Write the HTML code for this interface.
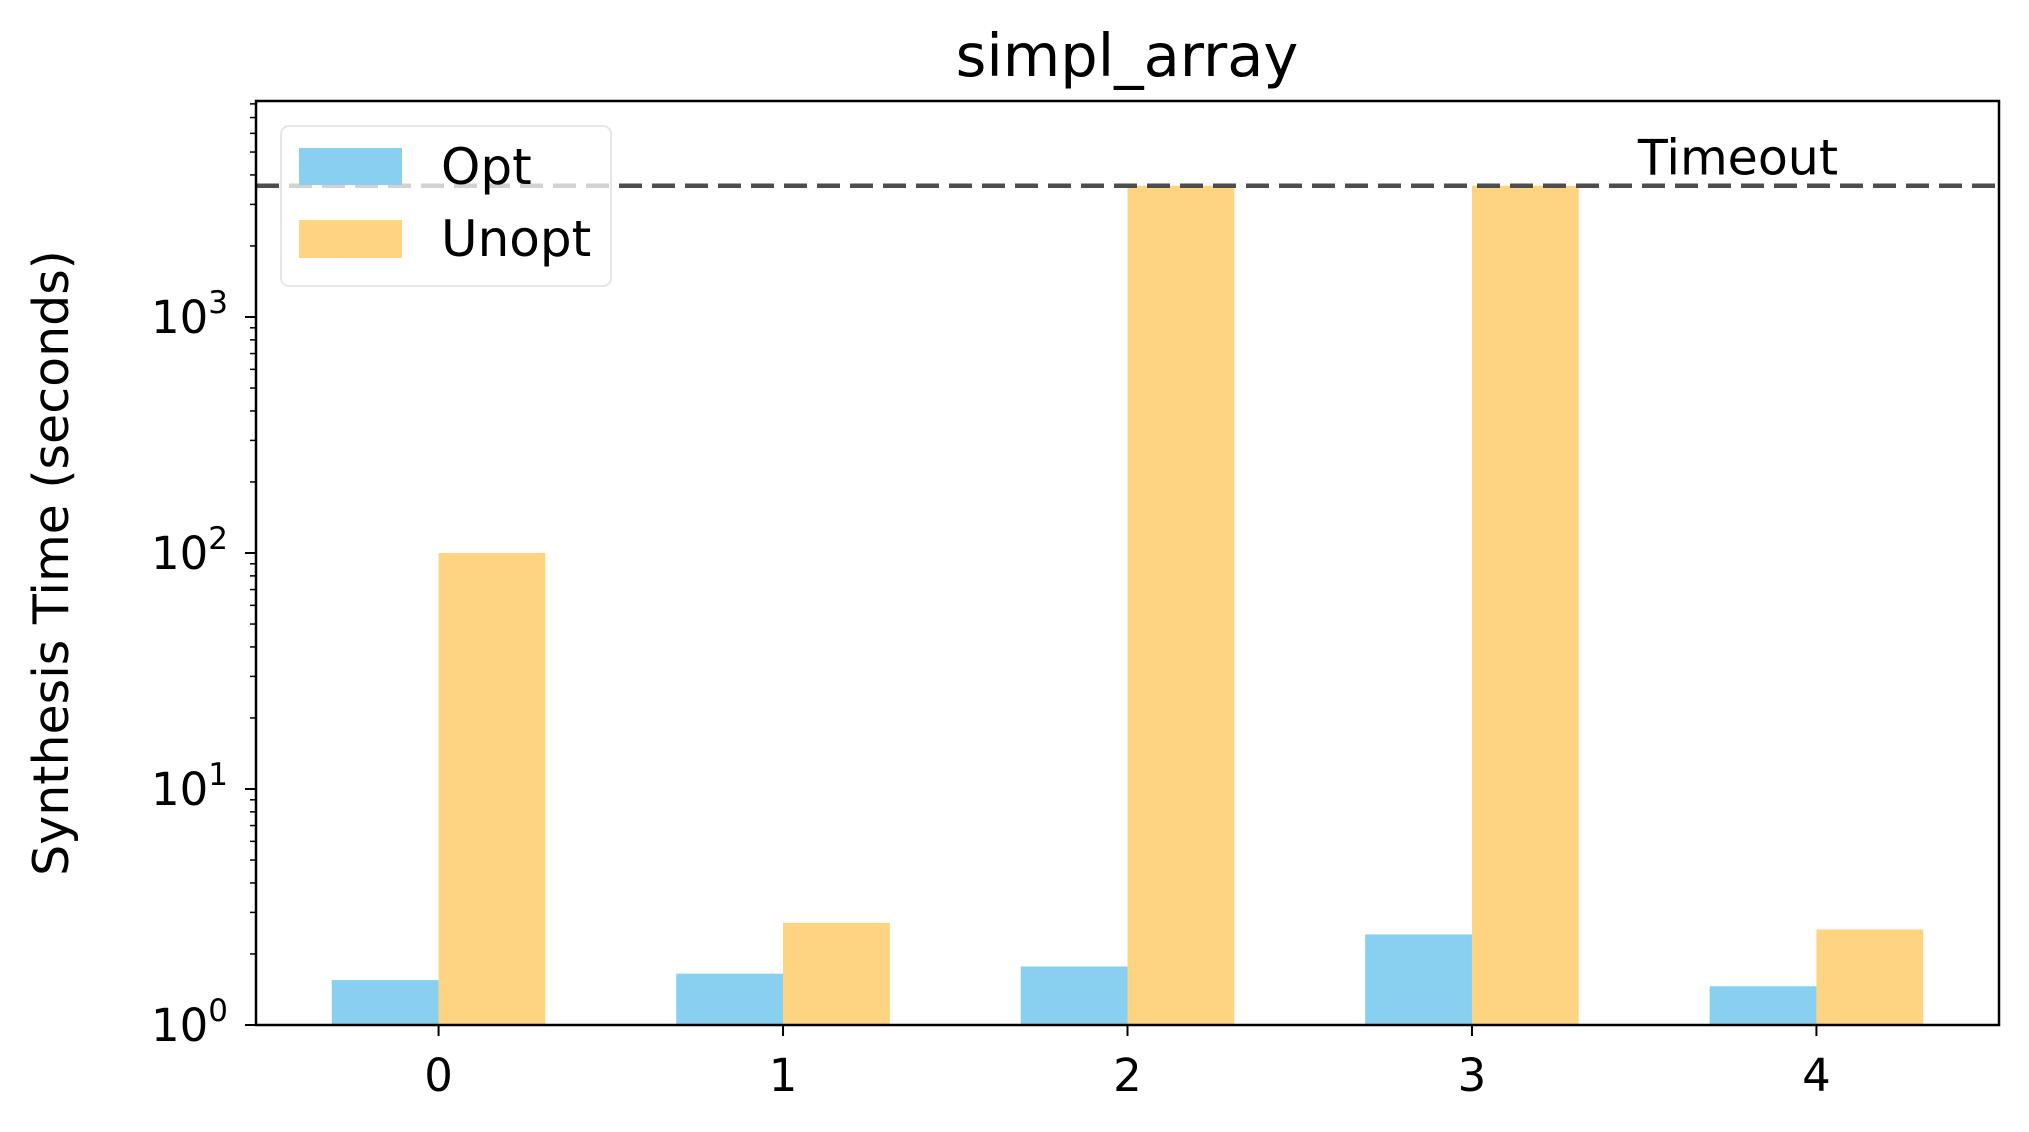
<!DOCTYPE html>
<html><head><meta charset="utf-8"><style>
html,body{margin:0;padding:0;background:#fff;}
svg{display:block;font-family:"DejaVu Sans","Liberation Sans",sans-serif;}
</style></head><body>
<svg id="chart" width="2029" height="1132" viewBox="0 0 2029 1132">
<text x="1127" y="76" font-size="59" text-anchor="middle">simpl_array</text>
<text transform="translate(68,563) rotate(-90)" font-size="49" text-anchor="middle">Synthesis Time (seconds)</text>
<g id="bars"></g>
<g id="ticks"></g>
<line id="timeout" x1="256" x2="1999" stroke="#4d4d4d" stroke-width="4.5" stroke-dasharray="23,10"/>
<text id="timeoutLabel" x="1738" font-size="49" text-anchor="middle">Timeout</text>
<rect x="256" y="101" width="1743" height="924" fill="none" stroke="#000" stroke-width="2.5"/>
<g>
<rect x="281" y="126" width="330" height="160" rx="8" fill="#fff" fill-opacity="0.75" stroke="#e6e6e6" stroke-width="2"/>
<rect x="299" y="148" width="103" height="37" fill="#89CFF0"/>
<text x="441" y="184" font-size="50">Opt</text>
<rect x="299" y="220" width="103" height="38" fill="#FED482"/>
<text x="441" y="256" font-size="50">Unopt</text>
</g>
</svg>
<script>
const categories = ["0","1","2","3","4"];
const optValues = [1.55, 1.65, 1.77, 2.42, 1.46];
const unoptValues = [100, 2.71, 3600, 3600, 2.54];
const timeoutValue = 3600;
const yTickExps = [0, 1, 2, 3];

const NS = "http://www.w3.org/2000/svg";
const L = 256, R = 1999, T = 101, B = 1025;
const xMin = -0.53, xMax = 4.53;
const yLogMin = 0, yLogMax = 924 / 236;
function xs(v){ return L + (v - xMin) / (xMax - xMin) * (R - L); }
function ys(v){ return B - (Math.log10(v) - yLogMin) / (yLogMax - yLogMin) * (B - T); }
function mk(tag, attrs, parent){ const e = document.createElementNS(NS, tag); for (const k in attrs) e.setAttribute(k, attrs[k]); parent.appendChild(e); return e; }

const bars = document.getElementById("bars");
const ticks = document.getElementById("ticks");
const bw = 0.31;
categories.forEach((c, i) => {
  const o = mk("rect", {x: xs(i - bw), y: ys(optValues[i]), width: xs(i) - xs(i - bw), height: B - ys(optValues[i]), fill: "#89CFF0"}, bars);
  
  
  const u = mk("rect", {x: xs(i), y: ys(unoptValues[i]), width: xs(i + bw) - xs(i), height: B - ys(unoptValues[i]), fill: "#FED482"}, bars);
  
  
  const tk = mk("line", {x1: xs(i), x2: xs(i), y1: B, y2: B + 11, stroke: "#000", "stroke-width": 2}, ticks);
  
  
  const tl = mk("text", {x: xs(i), y: B + 66, "font-size": 45, "text-anchor": "middle"}, ticks);
  tl.textContent = c;
  
  
});
yTickExps.forEach(e => {
  const y = ys(Math.pow(10, e));
  const tk = mk("line", {x1: L - 11, x2: L, y1: y, y2: y, stroke: "#000", "stroke-width": 2}, ticks);
  
  
  const tl = mk("text", {x: L - 28, y: y + 16, "font-size": 45, "text-anchor": "end"}, ticks);
  tl.textContent = "10";
  const sup = mk("tspan", {dy: -20, "font-size": 31}, tl);
  sup.textContent = String(e);
  
  
});
for (let e = 0; e < 4; e++) {
  for (let m = 2; m <= 9; m++) {
    const v = m * Math.pow(10, e);
    if (Math.log10(v) > yLogMax) continue;
    const y = ys(v);
    const mt = mk("line", {x1: L - 6, x2: L, y1: y, y2: y, stroke: "#000", "stroke-width": 1.5}, ticks);
    
    
  }
}
const ty = ys(timeoutValue);
const tline = document.getElementById("timeout");
tline.setAttribute("y1", ty); tline.setAttribute("y2", ty);
document.getElementById("timeoutLabel").setAttribute("y", ty - 11);
</script>
</body></html>
